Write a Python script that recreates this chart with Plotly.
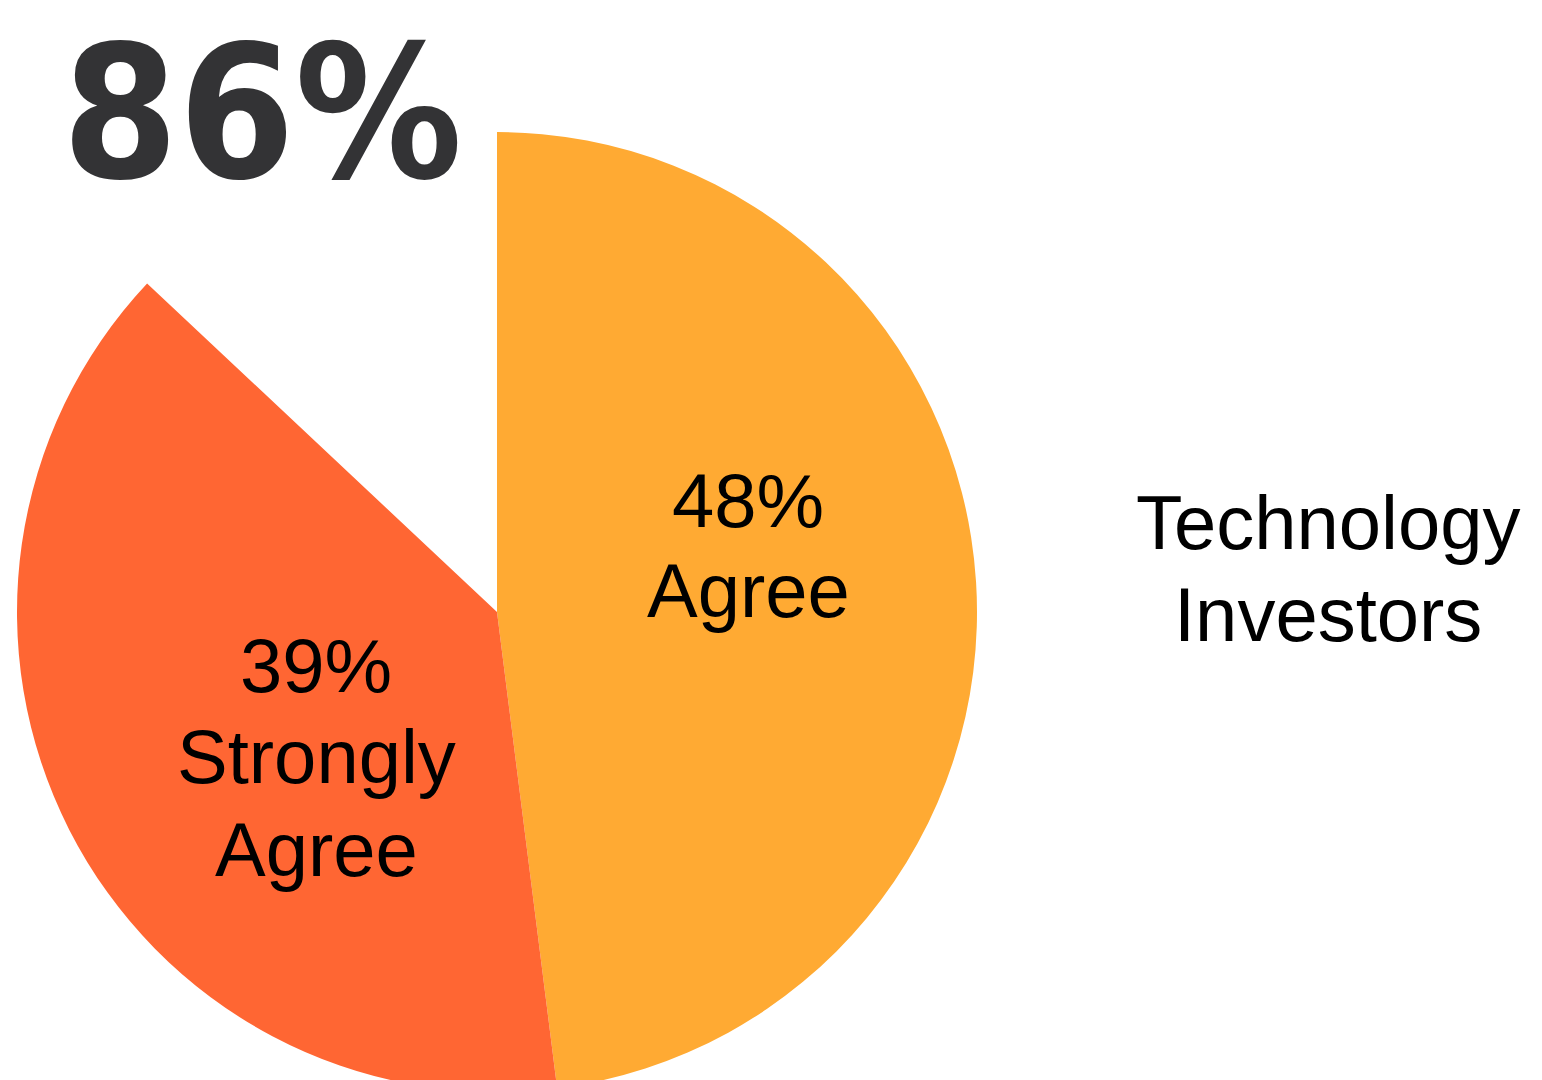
import plotly.graph_objects as go

# Survey shares for technology investors
categories = ["Agree", "Strongly Agree", "Other"]
shares = [48, 39, 13]
slice_colors = ["#FFAA33", "#FF6633", "rgba(255,255,255,0)"]
headline = "86%"
group_label = ["Technology", "Investors"]

W, H = 1542, 1104


def px(x):
    return x / W


def py(y):
    return 1 - y / H


fig = go.Figure()
fig.add_trace(go.Pie(
    labels=categories,
    values=shares,
    sort=False,
    direction="clockwise",
    rotation=0,
    marker=dict(colors=slice_colors, line=dict(width=0)),
    textinfo="none",
    hoverinfo="skip",
    showlegend=False,
    domain=dict(x=[px(17), px(977)], y=[py(1092), py(132)]),
))

label_font = dict(family="Liberation Sans, Arial, Helvetica, sans-serif", size=76, color="#000000")

# slice labels, one annotation per line
slice_lines = [
    ([f"{shares[0]}%", "Agree"], 748, [500, 590]),
    ([f"{shares[1]}%", "Strongly", "Agree"], 316, [665, 756, 849]),
]
for lines, cx, ys in slice_lines:
    for text, cy in zip(lines, ys):
        fig.add_annotation(x=px(cx), y=py(cy), xref="paper", yref="paper",
                           text=text, showarrow=False, font=label_font,
                           xanchor="center", yanchor="middle")

for text, cy in zip(group_label, [522, 614]):
    fig.add_annotation(x=px(1328), y=py(cy), xref="paper", yref="paper",
                       text=text, showarrow=False, font=label_font,
                       xanchor="center", yanchor="middle")

fig.add_annotation(x=px(262), y=py(112), xref="paper", yref="paper",
                   text=f"<b>{headline}</b>", showarrow=False,
                   font=dict(family="DejaVu Sans Condensed, Liberation Sans Narrow, Arial Narrow, sans-serif",
                             size=186, color="#333335"),
                   xanchor="center", yanchor="middle")

fig.update_layout(
    width=W, height=H,
    margin=dict(l=0, r=0, t=0, b=0),
    paper_bgcolor="#FFFFFF",
    plot_bgcolor="#FFFFFF",
)

fig.write_html(
    "out.html",
    post_script="document.documentElement.style.overflow='hidden';"
                "document.body.style.overflow='hidden';"
                "document.body.style.margin='0';",
)
